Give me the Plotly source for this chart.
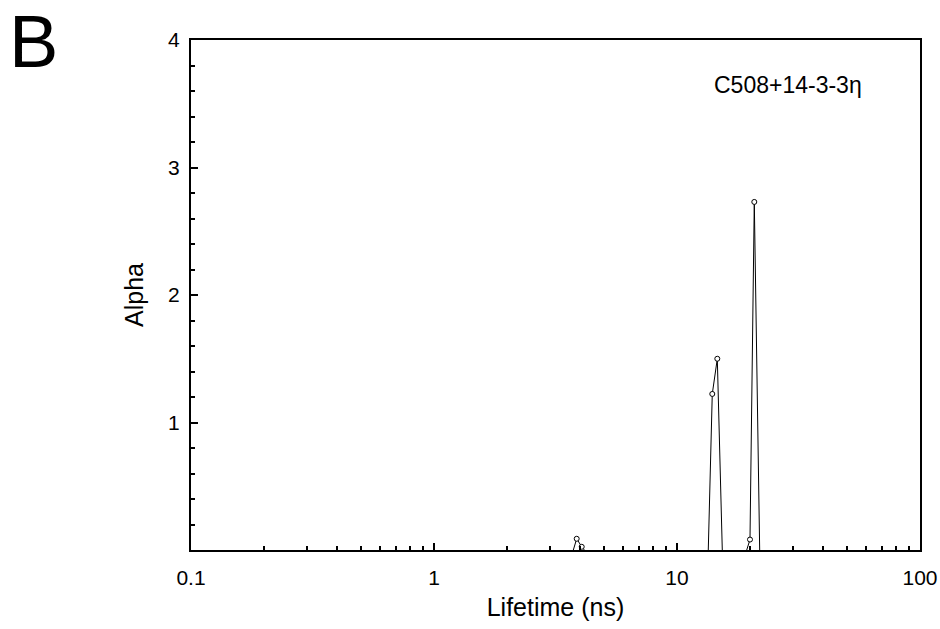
import plotly.graph_objects as go

# Lifetime distribution (ns) and amplitudes (Alpha)
lifetime_ns = [3.744, 3.866, 4.054, 4.156,
               13.45, 13.97, 14.65, 15.36,
               19.36, 19.97, 20.80, 21.89]
alpha = [0.0, 0.088, 0.025, 0.0,
         0.0, 1.224, 1.50, 0.0,
         0.0, 0.082, 2.73, 0.0]

x_major_ticks = [0.1, 1, 10, 100]
x_major_labels = ["0.1", "1", "10", "100"]
y_major_ticks = [1, 2, 3, 4]
y_major_labels = ["1", "2", "3", "4"]

FONT = "Liberation Sans, Arial, sans-serif"

x_minor = [m * d for d in (0.1, 1, 10) for m in range(2, 10)]
y_minor = [i * 0.2 for i in range(1, 20) if i % 5 != 0]

# break the line between peaks (zero runs lie on the axis)
lx, ly = [], []
for i, (x, a) in enumerate(zip(lifetime_ns, alpha)):
    if i > 0 and a == 0 and alpha[i - 1] == 0:
        lx.append(None)
        ly.append(None)
    lx.append(x)
    ly.append(a)

fig = go.Figure()
fig.add_trace(go.Scatter(
    x=lx, y=ly, mode="lines", connectgaps=False,
    line=dict(color="black", width=1), showlegend=False, hoverinfo="skip"))
mx = [x for x, a in zip(lifetime_ns, alpha) if a > 0]
my = [a for a in alpha if a > 0]
fig.add_trace(go.Scatter(
    x=mx, y=my, mode="markers",
    marker=dict(symbol="circle", size=5, color="white",
                line=dict(color="black", width=1)),
    showlegend=False))

fig.update_layout(
    width=940, height=629,
    margin=dict(l=191, r=20, t=40, b=79, autoexpand=False),
    paper_bgcolor="white", plot_bgcolor="white",
    font=dict(family=FONT, size=21, color="black"),
    xaxis=dict(
        type="log", range=[-1, 2], automargin=False,
        tickvals=x_major_ticks, ticktext=x_major_labels,
        ticklabeloverflow="allow",
        ticks="inside", ticklen=7, tickwidth=2, tickcolor="black",
        minor=dict(tickvals=x_minor, ticks="inside", ticklen=4,
                   tickwidth=1.5, tickcolor="black"),
        showline=True, linecolor="black", linewidth=2, mirror=True,
        showgrid=False, zeroline=False,
        tickfont=dict(size=21), ticklabelstandoff=8,
        title=dict(text="Lifetime (ns)", font=dict(size=25), standoff=10),
    ),
    yaxis=dict(
        range=[0, 4], automargin=False,
        tickvals=y_major_ticks, ticktext=y_major_labels,
        ticks="inside", ticklen=7, tickwidth=2, tickcolor="black",
        minor=dict(tickvals=y_minor, ticks="inside", ticklen=4,
                   tickwidth=1.5, tickcolor="black"),
        showline=True, linecolor="black", linewidth=2, mirror=True,
        showgrid=False, zeroline=False,
        tickfont=dict(size=21), ticklabelstandoff=5,
        title=dict(text="Alpha", font=dict(size=25), standoff=17),
    ),
    annotations=[
        dict(text="B", xref="paper", yref="paper", x=-0.2154, y=0.997,
             xanchor="center", yanchor="middle", showarrow=False,
             font=dict(size=74, family=FONT)),
        dict(text="C508+14-3-3η", xref="paper", yref="paper", x=0.819, y=0.911,
             xanchor="center", yanchor="middle", showarrow=False,
             font=dict(size=23, family=FONT)),
    ],
)

fig.write_html("out.html")
